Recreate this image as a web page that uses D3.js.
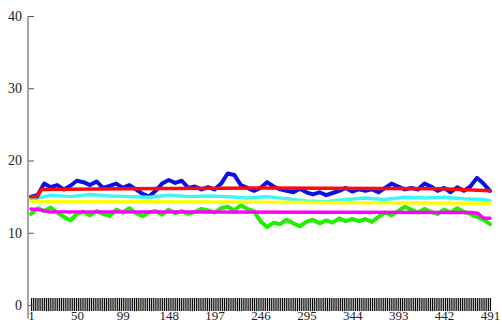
<!DOCTYPE html>
<html>
<head>
<meta charset="utf-8">
<script src="https://cdn.jsdelivr.net/npm/d3@7"></script>
<style>
  body { margin: 0; background: #fff; }
  svg { display: block; }
</style>
</head>
<body>
<svg width="502" height="324"></svg>
<script>
// sample positions for the noisy series (every 7th step)
var noisyX = d3.range(1, 492, 7);

var blueVals = [15.0, 15.2, 16.8, 16.3, 16.6, 16.0, 16.5, 17.2, 17.0, 16.6,
                17.1, 16.2, 16.5, 16.8, 16.2, 16.6, 16.0, 15.4, 15.0, 15.8,
                16.8, 17.3, 16.9, 17.2, 16.2, 16.4, 16.0, 16.3, 16.0, 16.8,
                18.2, 18.0, 16.6, 16.2, 15.8, 16.2, 17.0, 16.4, 16.0, 15.8,
                15.6, 16.1, 15.6, 15.3, 15.6, 15.2, 15.5, 15.8, 16.2, 15.7,
                16.0, 15.8, 16.0, 15.6, 16.2, 16.8, 16.4, 16.0, 16.2, 16.0,
                16.8, 16.4, 15.8, 16.2, 15.6, 16.3, 15.8, 16.4, 17.6, 16.8, 15.8];

var greenVals = [12.6, 13.4, 13.0, 13.5, 12.8, 12.2, 11.7, 12.6, 12.9, 12.4,
                 13.0, 12.6, 12.3, 13.2, 12.8, 13.4, 12.7, 12.3, 12.8, 13.0,
                 12.5, 13.2, 12.7, 13.0, 12.6, 12.9, 13.3, 13.1, 12.8, 13.4,
                 13.6, 13.1, 13.8, 13.3, 13.0, 11.6, 10.8, 11.4, 11.2, 11.8,
                 11.3, 10.9, 11.5, 11.8, 11.3, 11.7, 11.4, 12.0, 11.6, 11.9,
                 11.6, 11.9, 11.5, 12.2, 12.8, 12.4, 13.0, 13.6, 13.2, 12.8,
                 13.3, 12.9, 12.6, 13.2, 12.8, 13.4, 12.9, 12.6, 12.2, 11.8, 11.2];

var cyanX = [1, 22, 43, 64, 85, 106, 127, 148, 169, 190, 211, 232, 253, 274,
             295, 316, 337, 358, 379, 400, 421, 442, 463, 484, 491];
var cyanVals = [14.6, 15.2, 15.0, 15.3, 15.1, 15.0, 14.9, 15.2, 15.0, 15.1,
                15.0, 14.8, 15.0, 14.7, 14.4, 14.3, 14.6, 14.8, 14.6, 14.9,
                14.8, 14.9, 14.7, 14.6, 14.4];

var yellowX = [1, 150, 300, 491];
var yellowVals = [14.3, 14.3, 14.2, 14.1];

var redX = [1, 8, 12, 100, 250, 440, 491];
var redVals = [15.0, 15.0, 16.0, 16.1, 16.2, 16.1, 15.8];

var magentaX = [1, 10, 20, 470, 478, 484, 491];
var magentaVals = [13.3, 13.2, 12.9, 12.8, 12.7, 12.0, 12.0];

var yTicks = [0, 10, 20, 30, 40];
var xLabels = [1, 50, 99, 148, 197, 246, 295, 344, 393, 442, 491];
var xMinor = d3.range(1, 492, 2);

var serif = "'Liberation Serif', 'DejaVu Serif', serif";

var svg = d3.select("svg");

var x = d3.scaleLinear().domain([1, 491]).range([31, 490]);
var y = d3.scaleLinear().domain([0, 40]).range([305, 16]);

// x axis: dense band of ticks
svg.append("g")
    .attr("transform", "translate(0," + (y(0) - 7) + ")")
    .call(d3.axisBottom(x).tickValues(xMinor).tickSizeInner(13).tickSizeOuter(0).tickFormat(""))
    .call(function(g) {
        g.select(".domain").remove();
        g.selectAll(".tick line").attr("stroke", "#000").attr("stroke-width", 1.1);
    });

svg.append("g")
    .attr("transform", "translate(0," + (y(0) - 7) + ")")
    .call(d3.axisBottom(x).tickValues(xLabels).tickSize(0).tickPadding(13))
    .call(function(g) {
        g.select(".domain").remove();
        g.attr("font-family", serif).attr("font-size", 13);
        g.selectAll("text").attr("fill", "#222");
    });

// y axis
var yAxis = svg.append("g")
    .attr("transform", "translate(28,0)")
    .call(d3.axisLeft(y).tickValues(yTicks).tickSizeInner(-6).tickSizeOuter(0).tickPadding(6))
    .call(function(g) {
        g.select(".domain").remove();
        g.attr("font-family", serif).attr("font-size", 14);
        g.selectAll(".tick line").attr("stroke", "#555");
        g.selectAll("text").attr("fill", "#222");
    });

yAxis.append("line")
    .attr("x1", 0).attr("x2", 0)
    .attr("y1", y(40)).attr("y2", y(0) + 14)
    .attr("stroke", "#888")
    .attr("stroke-width", 1.5);

var line = d3.line()
    .x(function(d) { return x(d[0]); })
    .y(function(d) { return y(d[1]); });

function series(xs, vs, color, w) {
    svg.append("path")
        .datum(d3.zip(xs, vs))
        .attr("fill", "none")
        .attr("stroke", color)
        .attr("stroke-width", w)
        .attr("stroke-linejoin", "round")
        .attr("stroke-linecap", "round")
        .attr("d", line);
}

series(noisyX, blueVals, "#0a10e8", 4);
series(noisyX, greenVals, "#22ee00", 4);
series(cyanX, cyanVals, "#3ff5f5", 3.5);
series(yellowX, yellowVals, "#ffff00", 3.5);
series(redX, redVals, "#ff0a0a", 3.5);
series(magentaX, magentaVals, "#ff00ff", 3.5);
</script>
</body>
</html>
